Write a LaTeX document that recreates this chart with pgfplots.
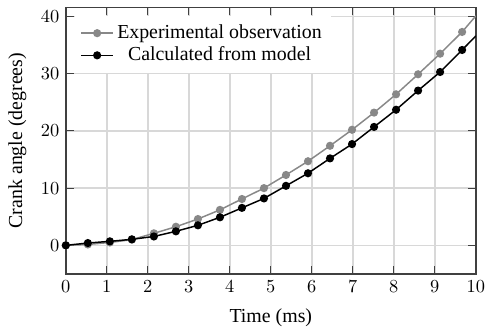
\documentclass[border=0pt]{standalone}
\usepackage{pgfplots}
\pgfplotsset{compat=1.18}
\usepackage{fontspec}
\setmainfont{Liberation Serif}
\definecolor{expgray}{HTML}{888888}
\definecolor{gridgray}{HTML}{D8D8D8}
\definecolor{axisgray}{HTML}{404040}
\begin{document}
\begin{tikzpicture}
\begin{axis}[
  name=main,
  scale only axis,
  width=223pt, height=145pt,
  xmin=0, xmax=10, ymin=-5, ymax=41.6,
  xtick={0,1,...,10},
  ytick={0,10,20,30,40},
  grid=major,
  major grid style={gridgray, line width=0.8pt},
  axis line style={axisgray, line width=0.8pt},
  tick style={axisgray, line width=0.6pt},
  label style={font=\fontsize{10.8pt}{13pt}\selectfont},
  xlabel={Time (ms)},
  ylabel={Crank angle (degrees)},
  xlabel style={yshift=-2pt},
  ylabel style={yshift=1pt},
  legend style={at={(0.022,0.97)}, anchor=north west, draw=none, fill=white,
    font=\fontsize{10.8pt}{12pt}\selectfont, row sep=-1pt, inner ysep=3pt, inner xsep=3pt},
  legend cell align=center,
  legend image post style={mark indices={2}},
]
\addplot[expgray, line width=0.8pt, mark=*, mark size=1.8pt, mark options={fill=expgray, draw=expgray}, mark indices={1,...,19}] coordinates {
(0,0) (0.537,0.15) (1.074,0.5) (1.611,1.0) (2.148,2.1) (2.685,3.25) (3.222,4.6)
(3.759,6.2) (4.296,8.1) (4.833,10.0) (5.370,12.3) (5.907,14.7) (6.444,17.4)
(6.981,20.2) (7.518,23.2) (8.055,26.4) (8.592,29.9) (9.129,33.5) (9.666,37.3) (10,40.1)
};
\addlegendentry{Experimental observation}
\addplot[black, line width=0.8pt, mark=*, mark size=1.8pt, mark indices={1,...,19}] coordinates {
(0,0) (0.537,0.4) (1.074,0.7) (1.611,1.05) (2.148,1.55) (2.685,2.45) (3.222,3.5)
(3.759,4.9) (4.296,6.55) (4.833,8.2) (5.370,10.4) (5.907,12.6) (6.444,15.2)
(6.981,17.7) (7.518,20.7) (8.055,23.7) (8.592,27.05) (9.129,30.3) (9.666,34.15) (10,36.6)
};
\addlegendentry{Calculated from model}
\end{axis}
\pgfresetboundingbox
\path ([shift={(-35.8pt,-29.9pt)}]main.south west) rectangle ([shift={(5pt,4pt)}]main.north east);
\end{tikzpicture}
\end{document}
